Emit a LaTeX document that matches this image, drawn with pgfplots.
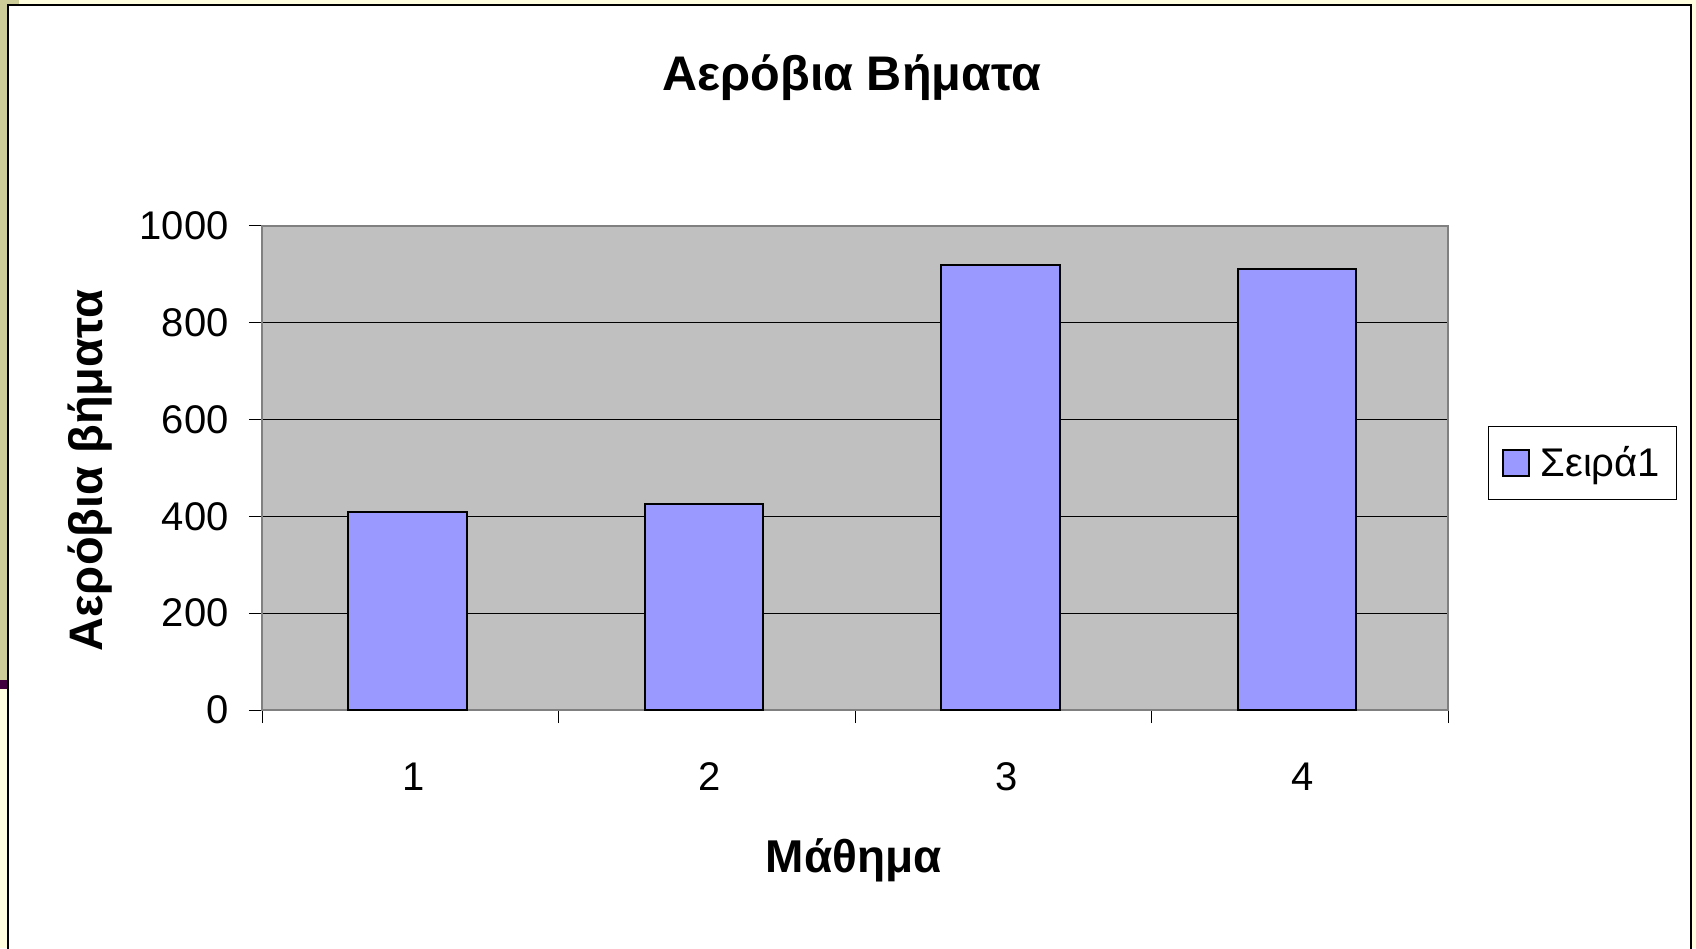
\documentclass[border=0pt]{standalone}
\usepackage{fontspec}
\setmainfont{Liberation Sans}
\usepackage{pgfplots}
\pgfplotsset{compat=1.18}
\definecolor{barc}{HTML}{9999FF}
\definecolor{plotbg}{HTML}{C0C0C0}
\definecolor{paleyel}{HTML}{FFFFE0}
\definecolor{oliv}{HTML}{CCCC99}
\definecolor{darkpurp}{HTML}{400040}
\begin{document}
\begin{tikzpicture}[x=0.5pt,y=0.5pt]
\useasboundingbox (0,0) rectangle (1696,948);
\fill[paleyel] (0,0) rectangle (1696,948);
\fill[oliv] (0,948) rectangle (8,268);
\fill[darkpurp] (0,268) rectangle (8,259);
\fill[oliv] (0,948) rectangle (19,943);
\draw[black, line width=1pt, fill=white] (8,-4) rectangle (1691,942.5);
\begin{axis}[
  at={(131pt,119pt)}, anchor=south west,
  scale only axis, width=593pt, height=242pt,
  xmin=0.5, xmax=4.5, ymin=0, ymax=1000,
  axis background/.style={fill=plotbg},
  axis line style={draw=gray, line width=0.75pt},
  ymajorgrids, major grid style={black, line width=0.5pt},
  ytick={0,200,400,600,800,1000},
  ytick pos=left, xtick pos=bottom,
  tick align=outside,
  major tick length=6.5pt,
  tick style={black, line width=0.5pt},
  xtick={0.5,1.5,2.5,3.5,4.5},
  xticklabels={},
  extra x ticks={1,2,3,4},
  extra x tick labels={1,2,3,4},
  extra x tick style={major tick length=0pt, tick label style={anchor=center, yshift=-33.5pt, xshift=1.6pt}},
  /pgf/number format/assume math mode=true,
  /pgf/number format/1000 sep={},
  tick label style={font=\fontsize{20pt}{24pt}\selectfont},
  yticklabel style={anchor=east, inner sep=0pt, xshift=-10pt},
  title={Αερόβια Βήματα},
  title style={at={(axis description cs:0.4975,1.282)}, anchor=center, font=\fontsize{24.3pt}{29pt}\selectfont\bfseries},
  xlabel={Μάθημα},
  xlabel style={at={(axis description cs:0.499,-0.31)}, anchor=center, font=\fontsize{23pt}{28pt}\selectfont\bfseries},
  ylabel={Αερόβια βήματα},
  ylabel style={at={(axis description cs:-0.145,0.4946)}, anchor=center, rotate=0, font=\fontsize{23.5pt}{28pt}\selectfont\bfseries},
  legend style={at={(axis description cs:1.0337,0.5868)}, anchor=north west, draw=black, line width=0.5pt, font=\fontsize{20pt}{24pt}\selectfont, inner xsep=6pt, inner ysep=8pt},
  legend image code/.code={\draw[fill=barc, draw=black, line width=1pt] (1.5pt,-6.5pt) rectangle (14.5pt,6.5pt); \path[draw=none, fill=none] (0pt,0pt) rectangle (18pt,0.1pt);},
]
\addplot[ybar, bar width=0.4, bar shift=-1.35pt, fill=barc, draw=black, line width=1pt] coordinates {(1,410) (2,425) (3,920) (4,912)};
\addlegendentry{Σειρά1}
\end{axis}
\end{tikzpicture}
\end{document}
